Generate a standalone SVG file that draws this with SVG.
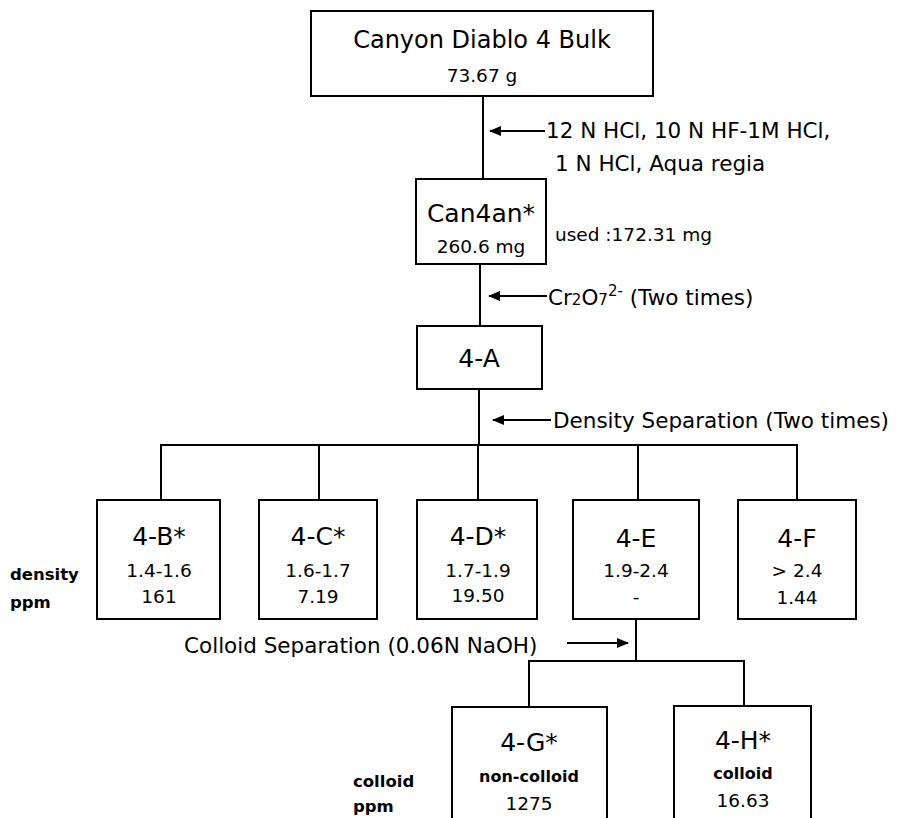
<svg xmlns="http://www.w3.org/2000/svg" width="897" height="818" viewBox="0 0 897 818">
<defs>
<style>
text{font-family:"DejaVu Sans","Liberation Sans",sans-serif;fill:#000}
.big{font-size:25px;text-anchor:middle}
.val{font-size:18.5px;text-anchor:middle}
.proc{font-size:21.5px}
.bold{font-size:16.5px;font-weight:bold}
.boldc{font-size:16px;font-weight:bold;text-anchor:middle}
.box{fill:#fff;stroke:#000;stroke-width:2}
.ln{fill:none;stroke:#000;stroke-width:2}
</style>
<marker id="ah" viewBox="0 0 12 10" refX="11" refY="5" markerWidth="12" markerHeight="10" markerUnits="userSpaceOnUse" orient="auto">
<path d="M0,0 L12,5 L0,10 Z" fill="#000"/>
</marker>
</defs>
<rect width="897" height="818" fill="#fff"/>

<g id="connectors">
<line class="ln" x1="483" y1="96" x2="483" y2="179"/>
<line class="ln" x1="480" y1="264" x2="480" y2="326"/>
<line class="ln" x1="479" y1="389" x2="479" y2="445"/>
<line class="ln" x1="160" y1="445" x2="798" y2="445"/>
<line class="ln" x1="161" y1="445" x2="161" y2="500"/>
<line class="ln" x1="319" y1="445" x2="319" y2="500"/>
<line class="ln" x1="478" y1="445" x2="478" y2="500"/>
<line class="ln" x1="638" y1="445" x2="638" y2="500"/>
<line class="ln" x1="797" y1="445" x2="797" y2="500"/>
<line class="ln" x1="636" y1="619" x2="636" y2="661"/>
<line class="ln" x1="528" y1="661" x2="745" y2="661"/>
<line class="ln" x1="529" y1="661" x2="529" y2="707"/>
<line class="ln" x1="744" y1="661" x2="744" y2="706"/>
<line class="ln" x1="545" y1="131" x2="490" y2="131" marker-end="url(#ah)"/>
<line class="ln" x1="547" y1="296" x2="489" y2="296" marker-end="url(#ah)"/>
<line class="ln" x1="551" y1="420" x2="493" y2="420" marker-end="url(#ah)"/>
<line class="ln" x1="567" y1="643" x2="628" y2="643" marker-end="url(#ah)"/>
</g>

<g id="process-labels">
<text class="proc" x="546" y="138">12 N HCl, 10 N HF-1M HCl,</text>
<text class="proc" x="555" y="171">1 N HCl, Aqua regia</text>
<text class="proc" x="548" y="305">Cr<tspan font-size="15">2</tspan>O<tspan font-size="15">7</tspan><tspan font-size="15" dy="-9">2-</tspan><tspan dy="9"> (Two times)</tspan></text>
<text class="proc" x="553" y="428">Density Separation (Two times)</text>
<text class="proc" x="184" y="653">Colloid Separation (0.06N NaOH)</text>
<text class="val" x="555" y="241" text-anchor="start" style="text-anchor:start">used :172.31 mg</text>
</g>

<g id="row-labels">
<text class="bold" x="10" y="580">density</text>
<text class="bold" x="10" y="608">ppm</text>
<text class="bold" x="353" y="787">colloid</text>
<text class="bold" x="353" y="812">ppm</text>
</g>

<g id="node-bulk">
<rect class="box" x="311" y="11" width="342" height="85"/>
<text class="big" x="482" y="48" style="font-size:24px">Canyon Diablo 4 Bulk</text>
<text class="val" x="482" y="82">73.67 g</text>
</g>

<g id="node-can4an">
<rect class="box" x="416" y="179" width="130" height="85"/>
<text class="big" x="481" y="222">Can4an*</text>
<text class="val" x="481" y="253">260.6 mg</text>
</g>

<g id="node-4A">
<rect class="box" x="417" y="326" width="125" height="63"/>
<text class="big" x="479" y="367">4-A</text>
</g>

<g id="node-4B">
<rect class="box" x="97" y="500" width="123" height="119"/>
<text class="big" x="159" y="545">4-B*</text>
<text class="val" x="159" y="577">1.4-1.6</text>
<text class="val" x="159" y="603">161</text>
</g>

<g id="node-4C">
<rect class="box" x="259" y="500" width="118" height="119"/>
<text class="big" x="318" y="545">4-C*</text>
<text class="val" x="318" y="577">1.6-1.7</text>
<text class="val" x="318" y="603">7.19</text>
</g>

<g id="node-4D">
<rect class="box" x="417" y="500" width="120" height="119"/>
<text class="big" x="478" y="545">4-D*</text>
<text class="val" x="478" y="577">1.7-1.9</text>
<text class="val" x="478" y="602">19.50</text>
</g>

<g id="node-4E">
<rect class="box" x="573" y="500" width="126" height="119"/>
<text class="big" x="636" y="547">4-E</text>
<text class="val" x="636" y="577">1.9-2.4</text>
<text class="val" x="636" y="603">-</text>
</g>

<g id="node-4F">
<rect class="box" x="738" y="500" width="118" height="119"/>
<text class="big" x="797" y="547">4-F</text>
<text class="val" x="797" y="577">&gt; 2.4</text>
<text class="val" x="797" y="604">1.44</text>
</g>

<g id="node-4G">
<rect class="box" x="452" y="707" width="155" height="125"/>
<text class="big" x="529" y="751">4-G*</text>
<text class="boldc" x="529" y="782">non-colloid</text>
<text class="val" x="529" y="810">1275</text>
</g>

<g id="node-4H">
<rect class="box" x="674" y="706" width="137" height="126"/>
<text class="big" x="743" y="749">4-H*</text>
<text class="boldc" x="743" y="779">colloid</text>
<text class="val" x="743" y="807">16.63</text>
</g>
</svg>
